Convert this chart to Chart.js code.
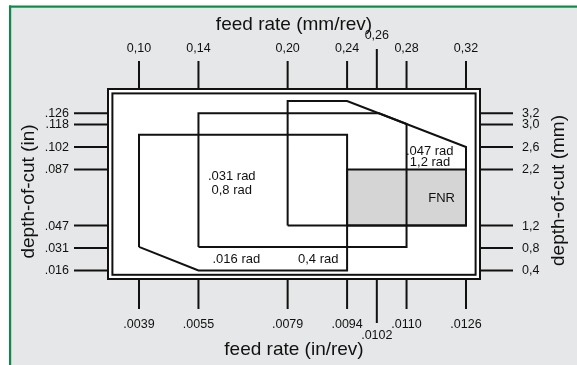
<!DOCTYPE html>
<html>
<head>
<meta charset="utf-8">
<script src="https://cdn.jsdelivr.net/npm/chart.js@4.4.1/dist/chart.umd.min.js"></script>
<style>
  html, body { margin: 0; padding: 0; background: #fff; }
</style>
</head>
<body>
<canvas id="chip_chart" width="577" height="365"></canvas>
<script>
// feed rate ticks (mm/rev on top, in/rev below) and depth-of-cut ticks
const feedTicks = [0.10, 0.14, 0.20, 0.24, 0.26, 0.28, 0.32];
const feedMmLabels = ["0,10", "0,14", "0,20", "0,24", "0,26", "0,28", "0,32"];
const feedInLabels = [".0039", ".0055", ".0079", ".0094", ".0102", ".0110", ".0126"];

const depthTicks = [3.2, 3.0, 2.6, 2.2, 1.2, 0.8, 0.4];
const depthMmLabels = ["3,2", "3,0", "2,6", "2,2", "1,2", "0,8", "0,4"];
const depthInLabels = [".126", ".118", ".102", ".087", ".047", ".031", ".016"];

// application areas, feed (mm/rev) vs depth (mm)
const areaA_feed = [0.10, 0.10, 0.24, 0.24, 0.14, 0.10];
const areaA_depth = [0.82, 2.82, 2.82, 0.40, 0.40, 0.82];
const areaB_feed = [0.14, 0.14, 0.2615, 0.28, 0.28, 0.14];
const areaB_depth = [0.82, 3.20, 3.20, 3.01, 0.82, 0.82];
const areaC_feed = [0.20, 0.20, 0.24, 0.32, 0.32, 0.20];
const areaC_depth = [1.20, 3.42, 3.42, 2.60, 1.20, 1.20];
const fnr_feed = [0.24, 0.24, 0.32, 0.32, 0.24];
const fnr_depth = [1.20, 2.20, 2.20, 1.20, 1.20];

const areaLabels = [".031 rad", "0,8 rad", ".016 rad", "0,4 rad", ".047 rad", "1,2 rad", "FNR"];
const labelFeed = [0.1624, 0.1624, 0.1655, 0.2206, 0.2956, 0.2958, 0.3036];
const labelDepth = [2.07, 1.82, 0.60, 0.60, 2.52, 2.32, 1.69];

const FONT = '"Liberation Sans", Arial, Helvetica, sans-serif';

function pts(xs, ys) {
    return xs.map((x, i) => ({x: x, y: ys[i]}));
}

function outline(xs, ys) {
    return {
        data: pts(xs, ys),
        showLine: true,
        borderColor: "#111",
        borderWidth: 2,
        pointRadius: 0,
        fill: false,
        tension: 0
    };
}

const paperPlugin = {
    id: "paper",
    beforeDraw(chart) {
        const ctx = chart.ctx;
        ctx.save();
        ctx.fillStyle = "#fff";
        ctx.fillRect(0, 0, chart.width, chart.height);
        ctx.fillStyle = "#e6e7e8";
        ctx.fillRect(10, 7, chart.width, chart.height);
        ctx.fillStyle = "#0b8b47";
        ctx.fillRect(9, 5.5, chart.width, 2.2);
        ctx.fillRect(9, 5.5, 2.2, chart.height);
        // double frame
        const a = chart.chartArea;
        ctx.fillStyle = "#fff";
        ctx.fillRect(a.left, a.top, a.right - a.left, a.bottom - a.top);
        ctx.strokeStyle = "#111";
        ctx.lineWidth = 2;
        ctx.strokeRect(a.left, a.top, a.right - a.left, a.bottom - a.top);
        ctx.strokeRect(a.left + 4.4, a.top + 4.4, a.right - a.left - 8.8, a.bottom - a.top - 8.6);
        ctx.restore();
    },
    afterDraw(chart) {
        const ctx = chart.ctx;
        const a = chart.chartArea;
        const xs = chart.scales.x, ys = chart.scales.y;
        ctx.save();
        ctx.strokeStyle = "#111";
        ctx.fillStyle = "#111";
        ctx.lineWidth = 2;
        ctx.font = "12.5px " + FONT;

        feedTicks.forEach((v, i) => {
            const px = xs.getPixelForValue(v);
            const lifted = feedMmLabels[i] === "0,26";
            ctx.beginPath();
            ctx.moveTo(px, a.top);
            ctx.lineTo(px, lifted ? 49 : 61);
            ctx.moveTo(px, a.bottom);
            ctx.lineTo(px, lifted ? 323 : 309);
            ctx.stroke();
            ctx.textAlign = "center";
            ctx.textBaseline = "middle";
            ctx.fillText(feedMmLabels[i], px, lifted ? 36 : 49);
            ctx.fillText(feedInLabels[i], px, lifted ? 336 : 325);
        });

        depthTicks.forEach((v, i) => {
            const py = ys.getPixelForValue(v);
            ctx.beginPath();
            ctx.moveTo(74, py);
            ctx.lineTo(a.left, py);
            ctx.moveTo(a.right, py);
            ctx.lineTo(513, py);
            ctx.stroke();
            ctx.textBaseline = "middle";
            ctx.textAlign = "right";
            ctx.fillText(depthInLabels[i], 69, py + 0.5);
            ctx.textAlign = "left";
            ctx.fillText(depthMmLabels[i], 522, py + 0.5);
        });

        ctx.font = "13px " + FONT;
        areaLabels.forEach((t, i) => {
            ctx.textAlign = "center";
            ctx.textBaseline = "middle";
            ctx.fillText(t, xs.getPixelForValue(labelFeed[i]), ys.getPixelForValue(labelDepth[i]));
        });

        ctx.font = "19px " + FONT;
        ctx.textAlign = "center";
        ctx.textBaseline = "middle";
        ctx.fillText("feed rate (mm/rev)", 294, 25);
        ctx.fillText("feed rate (in/rev)", 294, 350);

        ctx.save();
        ctx.translate(29, 191.5);
        ctx.rotate(-Math.PI / 2);
        ctx.fillText("depth-of-cut (in)", 0, 0);
        ctx.restore();

        ctx.save();
        ctx.translate(559, 190.5);
        ctx.rotate(-Math.PI / 2);
        ctx.fillText("depth-of-cut (mm)", 0, 0);
        ctx.restore();

        ctx.restore();
    }
};

const fnrArea = {
    data: pts(fnr_feed, fnr_depth),
    showLine: true,
    borderColor: "#111",
    borderWidth: 2,
    backgroundColor: "#d5d5d6",
    pointRadius: 0,
    fill: "shape",
    tension: 0
};

const chipChart = new Chart(document.getElementById("chip_chart").getContext("2d"), {
    type: "scatter",
    data: {
        datasets: [
            outline(areaA_feed, areaA_depth),
            outline(areaB_feed, areaB_depth),
            outline(areaC_feed, areaC_depth),
            fnrArea
        ]
    },
    options: {
        responsive: false,
        animation: false,
        layout: { padding: { left: 108, top: 89, right: 97, bottom: 86 } },
        scales: {
            x: { type: "linear", display: false, min: 0.07914, max: 0.32942 },
            y: { type: "linear", display: false, min: 0.2486, max: 3.6328 }
        },
        plugins: {
            legend: { display: false },
            tooltip: { enabled: false }
        }
    },
    plugins: [paperPlugin]
});
</script>
</body>
</html>
